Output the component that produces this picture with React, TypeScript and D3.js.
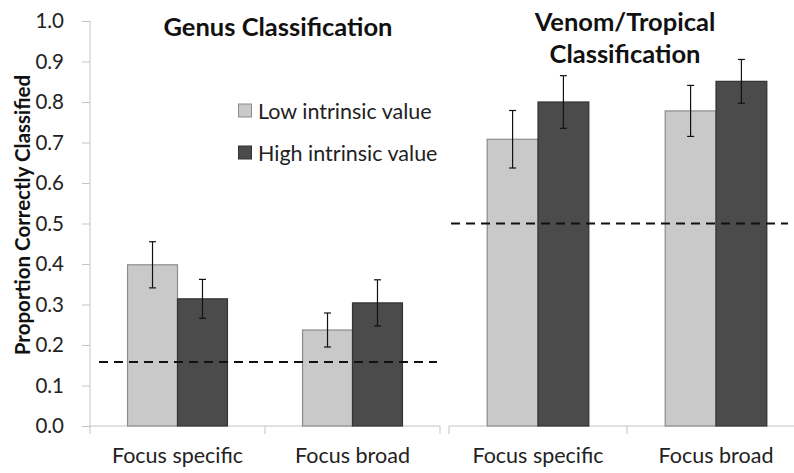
import { useEffect, useRef } from 'react'
import * as d3 from 'd3'

const CATEGORIES = ['Focus specific', 'Focus broad']
const SERIES = ['Low intrinsic value', 'High intrinsic value']
const PANEL_TITLES = [['Genus Classification'], ['Venom/Tropical', 'Classification']]
// means per panel, [category][series]
const MEANS = [
  [[0.398, 0.314], [0.237, 0.304]],
  [[0.708, 0.800], [0.778, 0.851]],
]
// half-width of error bars
const ERRORS = [
  [[0.057, 0.048], [0.042, 0.057]],
  [[0.071, 0.065], [0.063, 0.054]],
]
const CHANCE = [0.158, 0.5]
const Y_TICKS = d3.range(0, 11).map((i) => i / 10)

const FILLS = ['#c9c9c9', '#4b4b4b']
const STROKES = ['#8c8c8c', '#333333']
const FONT = 'Lato, "Open Sans", sans-serif'

export default function App() {
  const svgRef = useRef<SVGSVGElement>(null)

  useEffect(() => {
    document.body.style.margin = '0'
    if (!svgRef.current) return
    const W = 794
    const H = 473
    const svg = d3.select(svgRef.current).attr('viewBox', `0 0 ${W} ${H}`)
    svg.selectAll('*').remove()

    const y = d3.scaleLinear().domain([0, 1]).range([426, 21])
    const panelRanges: [number, number][] = [[90, 440], [449, 805]]

    // y axis
    svg.append('g').attr('transform', 'translate(90,0)')
      .call(d3.axisLeft(y).tickValues(Y_TICKS).tickFormat(d3.format('.1f')).tickSize(8).tickPadding(18))
      .call((ax) => ax.select('.domain').attr('stroke', '#c4c4c4').attr('d', `M0,${y(0)}V${y(1)}`))
      .call((ax) => ax.selectAll('.tick line').attr('stroke', '#c4c4c4'))
      .call((ax) => ax.selectAll('text').attr('fill', '#222').attr('font-size', 20.5).attr('font-family', FONT))

    svg.append('text')
      .attr('transform', `translate(30,215) rotate(-90)`)
      .attr('text-anchor', 'middle').attr('font-family', FONT).attr('font-weight', 700)
      .attr('font-size', 20.5).attr('fill', '#111')
      .text('Proportion Correctly Classified')

    panelRanges.forEach((range, p) => {
      const x0 = d3.scaleBand().domain(CATEGORIES).range(range)
      const bw = x0.bandwidth()
      const groupW = bw * 0.571
      const x1 = d3.scaleBand().domain(SERIES).range([(bw - groupW) / 2, (bw + groupW) / 2])

      // category axis
      svg.append('g').attr('transform', `translate(0,${y(0)})`)
        .call(d3.axisBottom(x0).tickSize(0).tickPadding(22))
        .call((ax) => ax.select('.domain').remove())
        .call((ax) => ax.selectAll('text').attr('fill', '#222').attr('font-size', 21.5).attr('font-family', FONT))
      const bounds = [range[0], ...CATEGORIES.map((c) => (x0(c) ?? 0) + bw)]
      svg.append('line').attr('x1', range[0]).attr('x2', range[1]).attr('y1', y(0)).attr('y2', y(0))
        .attr('stroke', '#c4c4c4')
      bounds.forEach((b) => {
        svg.append('line').attr('x1', b).attr('x2', b).attr('y1', y(0)).attr('y2', y(0) + 8)
          .attr('stroke', '#c4c4c4')
      })

      CATEGORIES.forEach((c, ci) => {
        SERIES.forEach((s, si) => {
          const v = MEANS[p][ci][si]
          const e = ERRORS[p][ci][si]
          const bx = (x0(c) ?? 0) + (x1(s) ?? 0)
          svg.append('rect')
            .attr('x', bx).attr('y', y(v)).attr('width', x1.bandwidth()).attr('height', y(0) - y(v))
            .attr('fill', FILLS[si]).attr('stroke', STROKES[si]).attr('stroke-width', 1.2)
          const cx = bx + x1.bandwidth() / 2
          const g = svg.append('g').attr('stroke', '#111').attr('stroke-width', 1.2)
          g.append('line').attr('x1', cx).attr('x2', cx).attr('y1', y(v + e)).attr('y2', y(v - e))
          ;[v + e, v - e].forEach((t) => {
            g.append('line').attr('x1', cx - 3.5).attr('x2', cx + 3.5).attr('y1', y(t)).attr('y2', y(t))
          })
        })
      })

      // chance line
      svg.append('line')
        .attr('x1', range[0] + (p === 0 ? 9 : 2)).attr('x2', p === 0 ? range[1] - 3 : 788)
        .attr('y1', y(CHANCE[p])).attr('y2', y(CHANCE[p]))
        .attr('stroke', '#111').attr('stroke-width', 2).attr('stroke-dasharray', '9 6')

      // title
      const tx = p === 0 ? 278 : 625
      const ty = p === 0 ? 36 : 31
      PANEL_TITLES[p].forEach((line, li) => {
        svg.append('text').attr('x', tx).attr('y', ty + li * 32)
          .attr('text-anchor', 'middle').attr('font-family', FONT).attr('font-weight', 700)
          .attr('font-size', 25.5).attr('fill', '#111').text(line)
      })
    })

    // legend
    SERIES.forEach((s, i) => {
      const ly = 104 + i * 42
      svg.append('rect').attr('x', 238.5).attr('y', ly).attr('width', 13).attr('height', 13)
        .attr('fill', FILLS[i]).attr('stroke', STROKES[i])
      svg.append('text').attr('x', 258).attr('y', ly + 15)
        .attr('font-family', FONT).attr('font-size', 21.5).attr('fill', '#222').text(s)
    })
  }, [])

  return <svg ref={svgRef} width={794} height={473} style={{ display: 'block' }} />
}
